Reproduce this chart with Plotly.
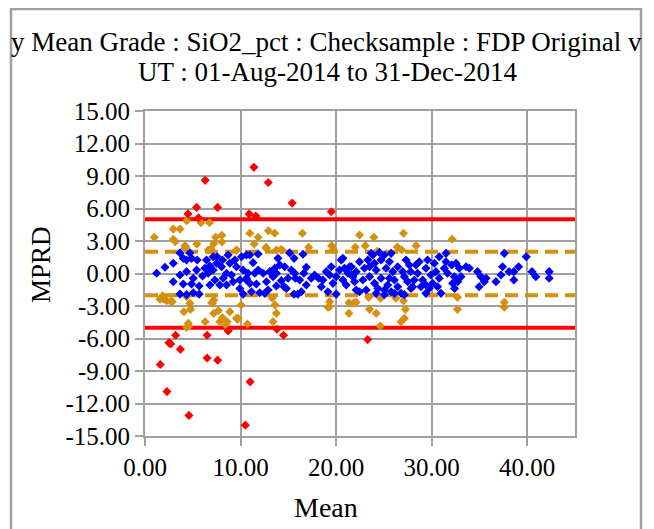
import plotly.graph_objects as go

# ---------------- data ----------------
red_x = [1.6, 2.3, 3.2, 2.5, 2.7, 3.7, 4.6, 6.5, 6.5, 7.6, 8.7, 11.0, 10.5, 13.8, 14.5, 23.3,
         6.3, 11.4, 12.9, 15.4, 19.5, 5.4, 4.5, 5.6, 7.6, 10.9, 11.6]
red_y = [-8.4, -10.9, -5.7, -6.4, -6.5, -7.0, -13.1, -5.7, -7.8, -8.0, -5.3, -10.0, -14.0, -5.15, -5.7, -6.1,
         8.6, 9.8, 8.4, 6.5, 5.7, 6.1, 5.5, 5.15, 6.1, 5.5, 5.3]

gold_x = [0.97, 2.96, 3.66, 4.35, 5.85, 6.75, 2.96, 3.17, 4.18, 4.28, 5.43, 7.38, 8.04, 8.04, 7.2, 6.9,
          9.61, 10.97, 11.84, 11.42, 12.92, 13.58, 12.67, 13.75, 14.37, 16.47, 17.13, 19.53, 19.7, 22.0,
          22.45, 23.95, 27.05, 23.05, 26.4, 26.87, 28.37, 32.14, 12.7, 14.2, 4.18, 6.62, 9.57, 24.3,
          1.91, 2.26, 2.68, 1.85, 1.57, 2.85, 4.35, 4.7, 4.07, 4.77, 4.53, 4.35, 4.6, 6.3, 7.2, 7.06,
          7.2, 7.67, 7.83, 8.11, 8.88, 8.6, 8.46, 9.58, 9.75, 10.06, 10.72, 13.32, 13.6, 13.75, 13.4,
          19.32, 19.15, 21.34, 21.34, 21.86, 22.1, 23.5, 24.2, 24.65, 24.62, 26.25, 27.05, 27.25, 27.15,
          26.8, 23.4, 32.7, 32.7, 37.6, 37.6, 6.97, 9.68, 19.3]
gold_y = [3.34, 4.1, 4.1, 4.88, 4.69, 4.69, 3.16, 2.94, 2.57, 2.45, 2.72, 3.34, 3.53, 2.91, 2.75, 2.26,
          2.14, 3.71, 3.34, 2.72, 3.95, 3.71, 2.42, 2.17, 2.14, 3.71, 2.42, 2.57, 2.2, 2.42,
          3.55, 3.34, 3.71, 2.57, 2.45, 2.17, 2.57, 3.16, 2.3, 2.2, 2.33, 2.17, 2.17, 2.05,
          -2.35, -2.51, -2.57, -2.05, -2.38, -2.6, -2.14, -2.75, -3.53, -3.31, -4.6, -4.97, -4.85, -4.45, -2.45, -2.75,
          -3.68, -3.43, -4.45, -4.08, -3.53, -4.45, -4.75, -4.14, -4.14, -2.91, -4.66, -2.29, -2.91, -3.68, -4.45,
          -2.6, -3.12, -2.7, -3.68, -2.7, -2.66, -3.31, -3.68, -2.29, -4.85, -2.29, -2.51, -3.31, -4.14,
          -4.45, -2.2, -2.2, -3.31, -2.66, -3.12, -2.7, -4.23, -3.07]

blue_x = [1.22, 2.09, 2.96, 3.66, 4.0, 4.7, 4.87, 5.46, 2.96, 3.66, 4.35, 5.05, 4.0, 4.87, 5.67, 6.02,
          6.27, 6.79, 7.14, 7.55, 8.11, 8.7, 8.88, 8.01, 6.79, 7.83, 9.05, 9.22, 10.1, 10.62, 10.27, 9.92,
          10.62, 3.66, 5.05, 5.67, 4.35, 10.27, 7.14, 7.49, 8.53, 9.57,
          6.62, 8.18, 8.53, 7.31, 9.4, 6.44, 5.4, 4.35, 9.92,
          10.97, 11.84, 11.31, 10.79, 11.49, 10.97, 11.66, 11.14, 12.01, 12.71, 12.88, 12.53, 13.92, 14.1,
          14.62, 13.75, 14.27, 14.55, 14.79, 15.14, 15.6, 15.67, 15.74, 15.6, 16.0, 16.53, 16.88, 16.62,
          16.88, 17.4, 18.17, 18.62, 18.97, 19.49, 19.67, 20.01, 20.53, 20.88, 21.23, 21.58, 20.01, 13.4,
          10.62, 11.84, 12.36, 13.05, 13.57, 13.75, 14.97, 15.32, 16.18, 16.36, 17.75, 18.45, 19.32, 20.36,
          20.71, 21.06, 20.71, 21.41, 19.14,
          22.1, 21.76, 22.45, 22.97, 22.8, 23.84, 24.02, 23.5, 22.45, 23.15, 24.7, 25.05, 25.76, 25.23,
          24.7, 25.4, 25.05, 26.1, 25.76, 26.45, 26.97, 27.32, 27.49, 28.01, 26.8, 28.36, 28.53, 29.05,
          29.57, 29.92, 29.74, 30.27, 30.1, 30.62, 30.79, 31.5, 31.32, 31.67, 32.1, 32.37, 24.2, 26.1,
          22.1, 27.8,
          21.59, 21.93, 23.32, 23.5, 24.2, 24.02, 24.37, 25.58, 25.93, 25.58, 26.45, 27.14, 27.66, 27.84,
          28.18, 28.7, 28.88, 29.4, 29.4, 30.44, 30.79, 31.5, 32.2, 23.67, 24.54, 30.97, 29.4, 25.05, 27.14,
          32.55, 32.9, 33.07, 32.72, 33.6, 33.95, 34.8, 35.15, 35.5, 34.97, 35.7, 36.73, 37.25, 37.42,
          37.6, 38.1, 38.6, 38.6, 39.1, 39.9, 40.5, 40.9, 42.3, 42.3, 32.4]
blue_y = [0.02, 0.57, 0.94, 1.9, 1.4, 1.9, 1.4, 1.25, -0.76, -0.14, 0.17, -0.44, -0.97, -0.97, -1.15, -0.23,
          0.48, 0.69, 1.55, 1.55, 1.25, 1.71, 0.94, 0.63, -1.06, -1.06, -0.14, -0.76, 1.55, 1.71, 0.32, -0.6,
          -0.6, -1.9, -1.77, -1.9, -1.95, -1.9, 0.32, 0.94, 0.02, 0.63,
          0.02, -0.44, -1.06, -0.6, 1.25, 1.25, 0.32, 1.25, -1.38,
          1.71, 1.8, 1.0, 0.02, 0.02, -0.91, -0.97, -1.68, -1.77, -0.76, -1.52, -1.83, 1.4, 0.78,
          0.63, 0.02, -0.66, -1.22, -1.38, 1.9, 1.4, 0.02, -0.44, -1.9, -1.9, 1.77, 0.57, 0.02,
          -1.06, -0.44, -0.44, -0.6, 0.17, 0.63, -0.91, -0.29, 1.25, 0.48, 0.02, -0.14, -1.9, -0.29,
          -0.44, 0.32, 0.02, 0.17, 0.48, -1.15, -0.44, 0.32, -0.6, -1.68, -0.14, -1.22, -0.14, 0.32,
          -0.6, -1.06, 1.4, 0.63, -1.68,
          0.17, -0.29, 1.09, 0.48, -0.6, 1.71, 0.94, -0.29, -1.68, -1.52, 1.25, 1.71, 1.86, 0.48,
          -0.44, -1.06, -1.52, -0.6, -1.68, 0.63, 0.17, 1.25, -0.75, -1.22, -1.83, 0.78, 0.02, -0.6,
          1.25, -0.14, -1.38, 0.94, -0.91, -1.22, 1.55, 1.86, 0.48, 0.02, 0.79, -0.29, -1.83, -1.83,
          -1.52, 0.17,
          0.63, -0.75, 1.25, 0.63, 0.32, -0.91, -1.38, 1.09, 0.17, -0.44, -1.22, -0.29, 0.78, -1.38,
          -0.6, 1.09, -1.22, 0.48, -1.06, 0.17, -0.44, 1.09, -0.91, 1.86, 1.95, -1.83, -1.83, -1.95, -1.95,
          0.94, 0.48, -0.29, -0.75, 0.63, 0.48, 0.17, -0.29, -0.75, -1.22, -0.44, -0.75, -0.14, 0.63,
          1.86, 0.17, 0.17, -0.6, 0.63, 1.55, 0.17, -0.29, 0.17, -0.44, -1.38]

red_limit = 5.0
gold_limit = 2.0
x_range = [0, 45]
y_range = [-15, 15]
x_tickvals = [0, 10, 20, 30, 40]
x_ticktext = ["0.00", "10.00", "20.00", "30.00", "40.00"]
y_tickvals = [15, 12, 9, 6, 3, 0, -3, -6, -9, -12, -15]
y_ticktext = ["15.00", "12.00", "9.00", "6.00", "3.00", "0.00", "-3.00", "-6.00", "-9.00", "-12.00", "-15.00"]
title_line1 = "y Mean Grade : SiO2_pct : Checksample : FDP Original v"
title_line2 = "UT : 01-Aug-2014 to 31-Dec-2014"
x_title = "Mean"
y_title = "MPRD"

# ---------------- figure ----------------
FONT = "Liberation Serif, Times New Roman, serif"
GRID = "#a0a0a0"
GOLD = "#D4900E"
OFF = 8  # page body margin

fig = go.Figure()

for lim in (red_limit, -red_limit):
    fig.add_trace(go.Scatter(x=x_range, y=[lim, lim], mode="lines",
                             line=dict(color="#FF0000", width=4), hoverinfo="skip"))
for lim in (gold_limit, -gold_limit):
    fig.add_trace(go.Scatter(x=x_range, y=[lim, lim], mode="lines",
                             line=dict(color=GOLD, width=4, dash="13px,7px"), hoverinfo="skip"))

mk = dict(symbol="diamond", size=7, line=dict(width=0))
fig.add_trace(go.Scatter(x=gold_x, y=gold_y, mode="markers", marker=dict(color=GOLD, **mk)))
fig.add_trace(go.Scatter(x=blue_x, y=blue_y, mode="markers", marker=dict(color="#0000FF", **mk)))
fig.add_trace(go.Scatter(x=red_x, y=red_y, mode="markers", marker=dict(color="#FF0000", **mk)))

W, H = 654 - OFF, 529 - OFF
L, R, T, B = 145 - OFF, 575 - OFF, 111 - OFF, 436 - OFF
pw, ph = R - L, B - T


def px(xp):
    return (xp - OFF - L) / pw


def py(yp):
    return (B - (yp - OFF)) / ph


axis_common = dict(showgrid=True, gridcolor=GRID, gridwidth=2, showline=True, linecolor=GRID,
                   linewidth=2, mirror=True, ticks="outside", ticklen=8, tickcolor=GRID, tickwidth=2,
                   zeroline=False,
                   tickfont=dict(family=FONT, size=25, color="black"))

fig.update_layout(
    width=W, height=H,
    margin=dict(l=L, r=W - R, t=T, b=H - B, pad=0),
    paper_bgcolor="white", plot_bgcolor="white",
    showlegend=False,
    font=dict(family=FONT, color="black"),
    xaxis=dict(range=x_range, tickvals=x_tickvals, ticktext=x_ticktext, **axis_common),
    yaxis=dict(range=y_range, tickvals=y_tickvals, ticktext=y_ticktext, **axis_common),
    shapes=[dict(type="rect", xref="paper", yref="paper",
                 x0=px(11), x1=px(641), y0=py(560), y1=py(9),
                 line=dict(color=GRID, width=2.5), fillcolor="rgba(0,0,0,0)", layer="below")],
    annotations=[
        dict(text=title_line1, xref="paper", yref="paper", x=px(326), y=py(42),
             xanchor="center", yanchor="middle", showarrow=False,
             font=dict(family=FONT, size=27, color="black")),
        dict(text=title_line2, xref="paper", yref="paper", x=px(327), y=py(72),
             xanchor="center", yanchor="middle", showarrow=False,
             font=dict(family=FONT, size=27, color="black")),
        dict(text=x_title, xref="paper", yref="paper", x=px(326), y=py(507),
             xanchor="center", yanchor="middle", showarrow=False,
             font=dict(family=FONT, size=28, color="black")),
        dict(text=y_title, xref="paper", yref="paper", x=px(41), y=py(265),
             xanchor="center", yanchor="middle", showarrow=False, textangle=-90,
             font=dict(family=FONT, size=27, color="black")),
    ],
)

fig.write_html("out.html")
